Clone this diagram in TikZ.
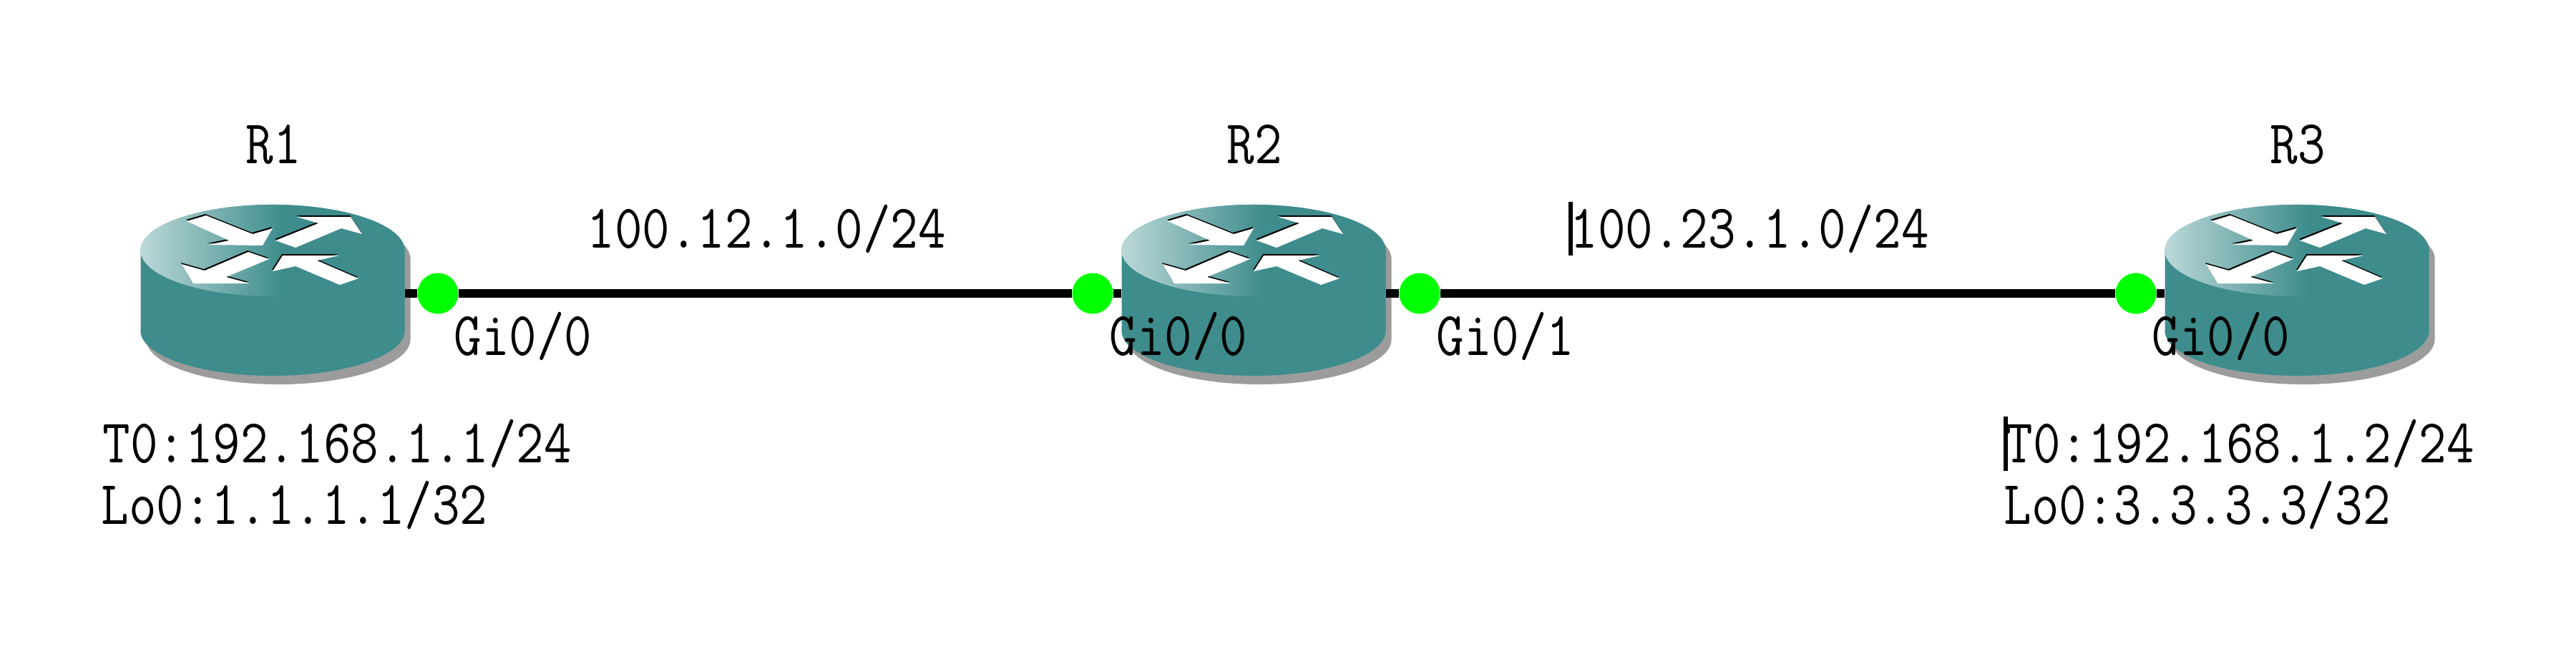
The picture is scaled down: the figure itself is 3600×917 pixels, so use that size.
\documentclass[tikz,border=0pt]{standalone}
\usepackage{graphicx}
\usetikzlibrary{positioning,backgrounds}
\definecolor{routerteal}{RGB}{62,140,140}
\definecolor{routerpale}{RGB}{188,216,216}
\definecolor{routershadow}{RGB}{156,156,156}
\definecolor{portgreen}{RGB}{0,255,0}
\pgfdeclarehorizontalshading{topshade}{100bp}{color(0bp)=(routerpale); color(25bp)=(routerpale); color(52bp)=(routerteal); color(100bp)=(routerteal)}
\newcommand{\lbl}[1]{\scalebox{.862}[1]{#1}}
\newcommand{\routerbody}{
  (0,112) ellipse [x radius=1.845cm,y radius=.63cm]
  (-184.5,0) rectangle (184.5,112)
  (0,0) ellipse [x radius=1.845cm,y radius=.64cm]}
\newcommand{\routerarrows}{
  (-120,-41) -- (-93,-49) -- (-28,-23) -- (0,-31) -- (-14,-7) -- (-90,-8) -- (-61,-14) -- cycle
  (4,-14) -- (64,-38) -- (34,-47) -- (109,-47) -- (125,-23) -- (96,-31) -- (32,-4) -- cycle
  (-5,12) -- (-34,2) -- (-95,28) -- (-127,19) -- (-111,46) -- (-32,46) -- (-65,37) -- cycle
  (120,39) -- (62,14) -- (93,7) -- (14,7) -- (0,29) -- (32,22) -- (94,48) -- cycle}
\tikzset{
  netlabel/.style={anchor=base west,inner sep=0pt,font=\ttfamily\fontsize{24.7pt}{30pt}\selectfont},
  port/.style={circle,fill=portgreen,inner sep=0pt,minimum size=.57cm},
  hub/.style={inner sep=0pt,outer sep=0pt,minimum width=3.69cm,minimum height=.1cm},
  link/.style={black,line width=.12cm},
  router/.pic={
    \fill [routershadow] [shift={(8,12)}] \routerbody;
    \fill [routerteal] \routerbody;
    \shade [shading=topshade] (0,0) ellipse [x radius=1.845cm,y radius=.64cm];
    \fill [black] [shift={(-1,-2)}] \routerarrows;
    \fill [white] \routerarrows;
  }
}
\begin{document}
\begin{tikzpicture}[x=.01cm,y=-.01cm]
\useasboundingbox (0,0) rectangle (3600,917);
\node [hub] (r1) at (381,410) {};
\node [hub] (r2) at (1752,410) {};
\node [hub] (r3) at (3210,410) {};
\node [port] (p1) at (612,410) {};
\node [port] (p2) at (1527,410) {};
\node [port] (p3) at (1984,410) {};
\node [port] (p4) at (2985,410) {};
\begin{scope}[on background layer]
\foreach \x in {381,1752,3210}
  \pic at (\x,350) {router};
\draw [link] (r1.east) -- (p1);
\draw [link] (p1) -- (p2);
\draw [link] (p2) -- (r2.west);
\draw [link] (r2.east) -- (p3);
\draw [link] (p3) -- (p4);
\draw [link] (p4) -- (r3.west);
\end{scope}
\node [netlabel] (n1) at (343,228) {\lbl{R1}};
\node [netlabel] (n2) at (1714,228) {\lbl{R2}};
\node [netlabel] (n3) at (3172,228) {\lbl{R3}};
\node [netlabel] (net1) at (820,346) {\lbl{100.12.1.0/24}};
\node [netlabel] (net2) at (2194,346) {\lbl{100.23.1.0/24}};
\fill [black] (2191.5,282) rectangle (2198,357);
\node [netlabel] (g1) at (634,496) {\lbl{Gi0/0}};
\node [netlabel] (g2) at (1550,496) {\lbl{Gi0/0}};
\node [netlabel] (g3) at (2007,496) {\lbl{Gi0/1}};
\node [netlabel] (g4) at (3007,496) {\lbl{Gi0/0}};
\node [netlabel] (t1) at (143,646) {\lbl{T0:192.168.1.1/24}};
\node [netlabel] (l1) at (141,732) {\lbl{Lo0:1.1.1.1/32}};
\node [netlabel] (t3) at (2802,646) {\lbl{T0:192.168.1.2/24}};
\node [netlabel] (l3) at (2800,732) {\lbl{Lo0:3.3.3.3/32}};
\fill [black] (2800,582) rectangle (2806,658);
\end{tikzpicture}
\end{document}
